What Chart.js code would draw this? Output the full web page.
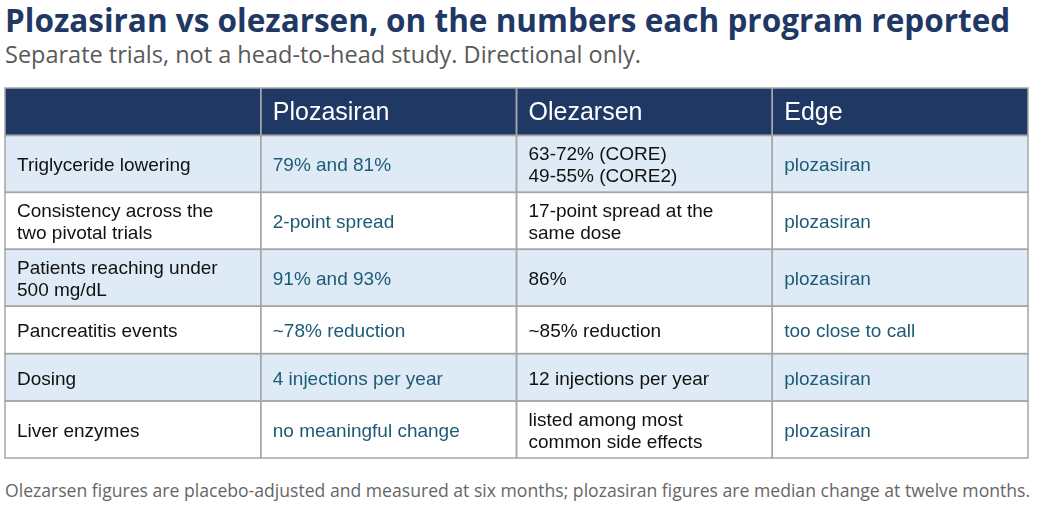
<!DOCTYPE html>
<html lang="en">
<head>
    <meta charset="UTF-8">
    <title>Plozasiran vs olezarsen</title>
    <script src="https://cdn.jsdelivr.net/npm/chart.js"></script>
    <style>
        body {
            margin: 0;
            width: 1042px;
            height: 505px;
            background: #ffffff;
            position: relative;
            overflow: hidden;
            font-family: 'Open Sans', sans-serif;
        }

        .title {
            position: absolute;
            left: 5px;
            top: 3px;
            font-size: 31.5px;
            line-height: 34px;
            font-weight: bold;
            color: #1f3864;
            white-space: nowrap;
        }

        .subtitle {
            position: absolute;
            left: 5px;
            top: 41px;
            font-size: 23.5px;
            line-height: 26px;
            color: #595959;
            white-space: nowrap;
        }

        .footnote {
            position: absolute;
            left: 5px;
            top: 479px;
            font-size: 17.6px;
            line-height: 22px;
            color: #666666;
            white-space: nowrap;
        }

        .table-wrap {
            position: absolute;
            left: 3px;
            top: 86px;
            width: 1027px;
            height: 374px;
        }
    </style>
</head>
<body>

    <div class="title">Plozasiran vs olezarsen, on the numbers each program reported</div>
    <div class="subtitle">Separate trials, not a head-to-head study. Directional only.</div>

    <div class="table-wrap">
        <canvas id="compareTable"></canvas>
    </div>

    <div class="footnote">Olezarsen figures are placebo-adjusted and measured at six months; plozasiran figures are median change at twelve months.</div>

    <script>
        // table content
        const columns = ['', 'Plozasiran', 'Olezarsen', 'Edge'];
        const measures = [
            'Triglyceride lowering',
            'Consistency across the\ntwo pivotal trials',
            'Patients reaching under\n500 mg/dL',
            'Pancreatitis events',
            'Dosing',
            'Liver enzymes'
        ];
        const plozasiran = [
            '79% and 81%',
            '2-point spread',
            '91% and 93%',
            '~78% reduction',
            '4 injections per year',
            'no meaningful change'
        ];
        const olezarsen = [
            '63-72% (CORE)\n49-55% (CORE2)',
            '17-point spread at the\nsame dose',
            '86%',
            '~85% reduction',
            '12 injections per year',
            'listed among most\ncommon side effects'
        ];
        const edge = [
            'plozasiran',
            'plozasiran',
            'plozasiran',
            'too close to call',
            'plozasiran',
            'plozasiran'
        ];

        const NAVY = '#1f3864';
        const BAND = '#deebf7';
        const TEAL = '#1d5b75';
        const GRID = '#a6a6a6';

        // every table row becomes one stacked dataset, one bar per column
        const rows = [columns].concat(measures.map((m, i) => [m, plozasiran[i], olezarsen[i], edge[i]]));
        const lineCount = row => Math.max(...row.map(t => t.split('\n').length));
        const rowUnits = rows.map(r => 1 + 0.2 * (lineCount(r) - 1));
        const totalUnits = rowUnits.reduce((s, v) => s + v, 0);

        const datasets = rows.map((row, i) => ({
            label: i === 0 ? 'header' : row[0],
            cells: row,
            isHeader: i === 0,
            data: columns.map(() => rowUnits[i]),
            backgroundColor: i === 0 ? NAVY : (i % 2 === 1 ? BAND : '#ffffff'),
            borderWidth: 0,
            categoryPercentage: 1,
            barPercentage: 1
        }));

        const cellPlugin = {
            id: 'cellText',
            afterDatasetsDraw(chart) {
                const c = chart.ctx;
                c.save();
                chart.data.datasets.forEach((ds, di) => {
                    const meta = chart.getDatasetMeta(di);
                    meta.data.forEach((bar, ci) => {
                        const p = bar.getProps(['x', 'y', 'base', 'width'], true);
                        const left = p.x - p.width / 2;
                        const top = Math.min(p.y, p.base);
                        const h = Math.abs(p.base - p.y);

                        // cell border
                        c.strokeStyle = GRID;
                        c.lineWidth = 1.5;
                        c.strokeRect(left, top, p.width, h);

                        // cell text
                        const lines = ds.cells[ci].split('\n');
                        let size = 19, lh = 22, nudge = 2;
                        if (ds.isHeader) {
                            c.fillStyle = '#ffffff';
                            size = 25;
                            nudge = 1;
                        } else {
                            c.fillStyle = (ci === 1 || ci === 3) ? TEAL : '#111111';
                        }
                        c.font = size + 'px "Liberation Sans", Arial, sans-serif';
                        c.textBaseline = 'middle';
                        c.textAlign = 'left';
                        const mid = top + h / 2 + nudge;
                        lines.forEach((t, li) => {
                            c.fillText(t, left + 12, mid + (li - (lines.length - 1) / 2) * lh);
                        });
                    });
                });
                c.restore();
            }
        };

        new Chart(document.getElementById('compareTable'), {
            type: 'bar',
            data: { labels: columns, datasets: datasets },
            options: {
                animation: false,
                responsive: true,
                maintainAspectRatio: false,
                layout: { padding: 2 },
                plugins: {
                    legend: { display: false },
                    tooltip: { enabled: false }
                },
                scales: {
                    x: { stacked: true, display: false },
                    y: { stacked: true, display: false, reverse: true, min: 0, max: totalUnits }
                }
            },
            plugins: [cellPlugin]
        });
    </script>

</body>
</html>
